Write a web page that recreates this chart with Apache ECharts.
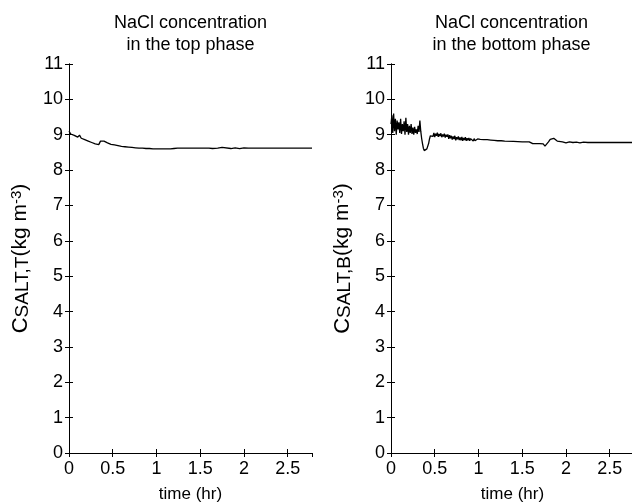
<!DOCTYPE html>
<html>
<head>
<meta charset="utf-8">
<script src="https://cdn.jsdelivr.net/npm/echarts@6/dist/echarts.min.js"></script>
<style>html,body{margin:0;padding:0;background:#fff;}#c{width:632px;height:503px;}</style>
</head>
<body>
<div id="c"></div>
<script>
// time (hr) and NaCl concentration (kg m-3), top phase
const topTime = [0.00,0.02,0.04,0.06,0.08,0.10,0.12,0.14,0.16,0.18,0.20,0.22,0.24,0.26,0.28,0.30,0.32,0.34,0.36,0.38,0.40,0.42,0.44,0.46,0.48,0.50,0.52,0.54,0.56,0.58,0.60,0.62,0.64,0.66,0.68,0.70,0.72,0.74,0.76,0.78,0.80,0.82,0.84,0.86,0.88,0.90,0.92,0.94,0.96,0.98,1.00,1.02,1.04,1.06,1.08,1.10,1.12,1.14,1.16,1.18,1.20,1.22,1.24,1.26,1.50,1.60,1.62,1.64,1.66,1.70,1.75,1.77,1.85,1.90,1.95,2.00,2.05,2.27,2.28,2.30,2.7778];
const topConc = [9.10,9.02,9.07,8.98,9.03,8.93,8.99,8.90,8.95,8.86,8.91,8.82,8.87,8.78,8.83,8.74,8.78,8.72,8.82,8.86,8.82,8.85,8.77,8.80,8.73,8.77,8.71,8.75,8.69,8.73,8.67,8.71,8.66,8.70,8.65,8.69,8.64,8.68,8.63,8.67,8.62,8.66,8.62,8.65,8.61,8.65,8.61,8.64,8.60,8.64,8.60,8.64,8.60,8.63,8.60,8.63,8.60,8.63,8.60,8.63,8.61,8.63,8.62,8.62,8.62,8.62,8.64,8.61,8.63,8.62,8.64,8.62,8.61,8.63,8.61,8.63,8.62,8.62,8.64,8.62,8.62];
// bottom phase
const botTime = [0.00,0.01,0.02,0.03,0.04,0.05,0.06,0.07,0.08,0.09,0.10,0.11,0.12,0.13,0.14,0.15,0.16,0.17,0.18,0.19,0.20,0.21,0.22,0.23,0.24,0.25,0.26,0.27,0.28,0.29,0.30,0.31,0.32,0.33,0.34,0.35,0.36,0.37,0.38,0.39,0.40,0.41,0.42,0.43,0.44,
  0.45,0.46,0.47,0.48,0.49,0.50,0.51,0.52,0.53,0.54,0.55,0.56,0.57,0.58,0.59,0.60,0.61,0.62,0.63,0.64,0.65,0.66,0.67,0.68,0.69,0.70,0.71,0.72,0.73,0.74,0.75,0.76,0.77,0.78,0.79,0.80,0.81,0.82,0.83,0.84,0.85,0.86,0.87,0.88,0.89,0.90,0.91,0.92,0.93,0.94,0.95,0.96,0.97,0.98,0.99,1.00,
  1.02,1.04,1.06,1.08,1.10,1.12,1.14,1.16,1.18,1.20,1.22,1.24,1.26,1.30,1.40,1.50,1.58,1.62,1.70,1.74,1.76,1.78,1.80,1.82,1.84,1.86,1.88,1.90,1.92,1.96,2.00,2.04,2.08,2.12,2.16,2.20,2.25,2.30,2.7778];
const botConc = [9.30,9.55,9.05,9.60,9.10,9.45,9.00,9.40,9.15,9.35,9.05,9.45,9.02,9.30,9.10,9.38,9.00,9.48,9.08,9.30,9.00,9.25,9.05,9.30,9.02,9.20,9.00,9.22,9.05,9.15,9.02,9.25,9.08,9.40,9.10,8.90,8.75,8.62,8.55,8.58,8.53,8.60,8.56,8.75,8.88,
  8.97,8.92,9.02,8.95,9.05,8.93,9.03,8.97,9.06,8.94,9.02,8.96,9.04,8.93,9.01,8.95,9.03,8.92,9.00,8.94,9.01,8.88,8.99,8.90,8.97,8.86,8.95,8.88,8.97,8.84,8.93,8.87,8.95,8.85,8.92,8.84,8.94,8.83,8.91,8.85,8.93,8.83,8.90,8.84,8.91,8.83,8.89,8.84,8.90,8.82,8.89,8.83,8.88,8.82,8.88,8.83,
  8.87,8.82,8.86,8.82,8.86,8.81,8.85,8.81,8.84,8.81,8.83,8.81,8.83,8.82,8.81,8.80,8.80,8.75,8.75,8.74,8.68,8.66,8.80,8.87,8.84,8.90,8.86,8.82,8.78,8.80,8.77,8.80,8.78,8.79,8.77,8.79,8.78,8.78,8.78];
const xTicks = [0, 0.5, 1, 1.5, 2, 2.5];
const xMax = 2.7778;
const yMin = 0, yMax = 11, yStep = 1;
const titles = ['NaCl concentration\nin the top phase', 'NaCl concentration\nin the bottom phase'];
const xName = 'time (hr)';
const yNames = ['{c|C}{s|SALT,T}{n|(kg m}{p|-3}{n|)}', '{c|C}{s|SALT,B}{n|(kg m}{p|-3}{n|)}'];

const FONT = 'Liberation Sans, Arial, sans-serif';
const zip = (a, b) => a.map((t, i) => [t, b[i]]);
const fmtX = v => (xTicks.some(t => Math.abs(t - v) < 1e-6) ? String(v) : '');
const grids = [
  {left: 69, top: 64, width: 243, height: 389},
  {left: 391, top: 64, width: 243, height: 389}
];
const lineAx = {show: true, lineStyle: {color: '#000', width: 1}};
const tickAx = {show: true, inside: true, length: 4, lineStyle: {color: '#000', width: 1}};
const xAxes = [], yAxes = [];
grids.forEach((g, i) => {
  g.outerBoundsMode = 'none';
  g.containLabel = false;
  xAxes.push({gridIndex: i, type: 'value', position: 'bottom', min: 0, max: xMax, interval: 0.5,
    axisLine: lineAx, axisTick: tickAx, splitLine: {show: false},
    axisLabel: {color: '#000', fontSize: 18, fontFamily: FONT, margin: 7, formatter: fmtX, showMaxLabel: false},
    name: xName, nameLocation: 'middle', nameGap: 33,
    nameTextStyle: {color: '#000', fontSize: 17, fontFamily: FONT}});
  xAxes.push({gridIndex: i, type: 'value', position: 'top', min: 0, max: xMax, interval: 0.5,
    axisLine: lineAx, axisTick: tickAx, splitLine: {show: false}, axisLabel: {show: false}});
  yAxes.push({gridIndex: i, type: 'value', position: 'left', min: yMin, max: yMax, interval: yStep,
    axisLine: lineAx, axisTick: tickAx, splitLine: {show: false},
    axisLabel: {color: '#000', fontSize: 18, fontFamily: FONT, margin: 6},
    name: yNames[i], nameLocation: 'middle', nameGap: 37, nameRotate: 90,
    nameTextStyle: {color: '#000', fontFamily: FONT, rich: {
      c: {fontSize: 22, fontFamily: FONT, color: '#000', lineHeight: 23, verticalAlign: 'middle'},
      n: {fontSize: 21, fontFamily: FONT, color: '#000', lineHeight: 23, verticalAlign: 'middle'},
      s: {fontSize: 19, fontFamily: FONT, color: '#000', lineHeight: 23, verticalAlign: 'bottom'},
      p: {fontSize: 15, fontFamily: FONT, color: '#000', lineHeight: 23, verticalAlign: 'top'}
    }}});
  yAxes.push({gridIndex: i, type: 'value', position: 'right', min: yMin, max: yMax, interval: yStep,
    axisLine: lineAx, axisTick: tickAx, splitLine: {show: false}, axisLabel: {show: false}});
});

const chart = echarts.init(document.getElementById('c'), null, {renderer: 'canvas'});
chart.setOption({
  animation: false,
  backgroundColor: '#fff',
  title: titles.map((t, i) => ({
    text: t, left: grids[i].left + grids[i].width / 2 - (i === 1 ? 1 : 0), top: 12, padding: 0, textAlign: 'center',
    textStyle: {fontSize: 18, fontWeight: 'normal', color: '#000', fontFamily: FONT, lineHeight: 22}
  })),
  grid: grids,
  xAxis: xAxes,
  yAxis: yAxes,
  series: [
    {type: 'line', xAxisIndex: 0, yAxisIndex: 0, data: zip(topTime, topConc), symbol: 'none',
      lineStyle: {color: '#000', width: 1.3}},
    {type: 'line', xAxisIndex: 2, yAxisIndex: 2, data: zip(botTime, botConc), symbol: 'none',
      lineStyle: {color: '#000', width: 1.3}}
  ]
});
</script>
</body>
</html>
